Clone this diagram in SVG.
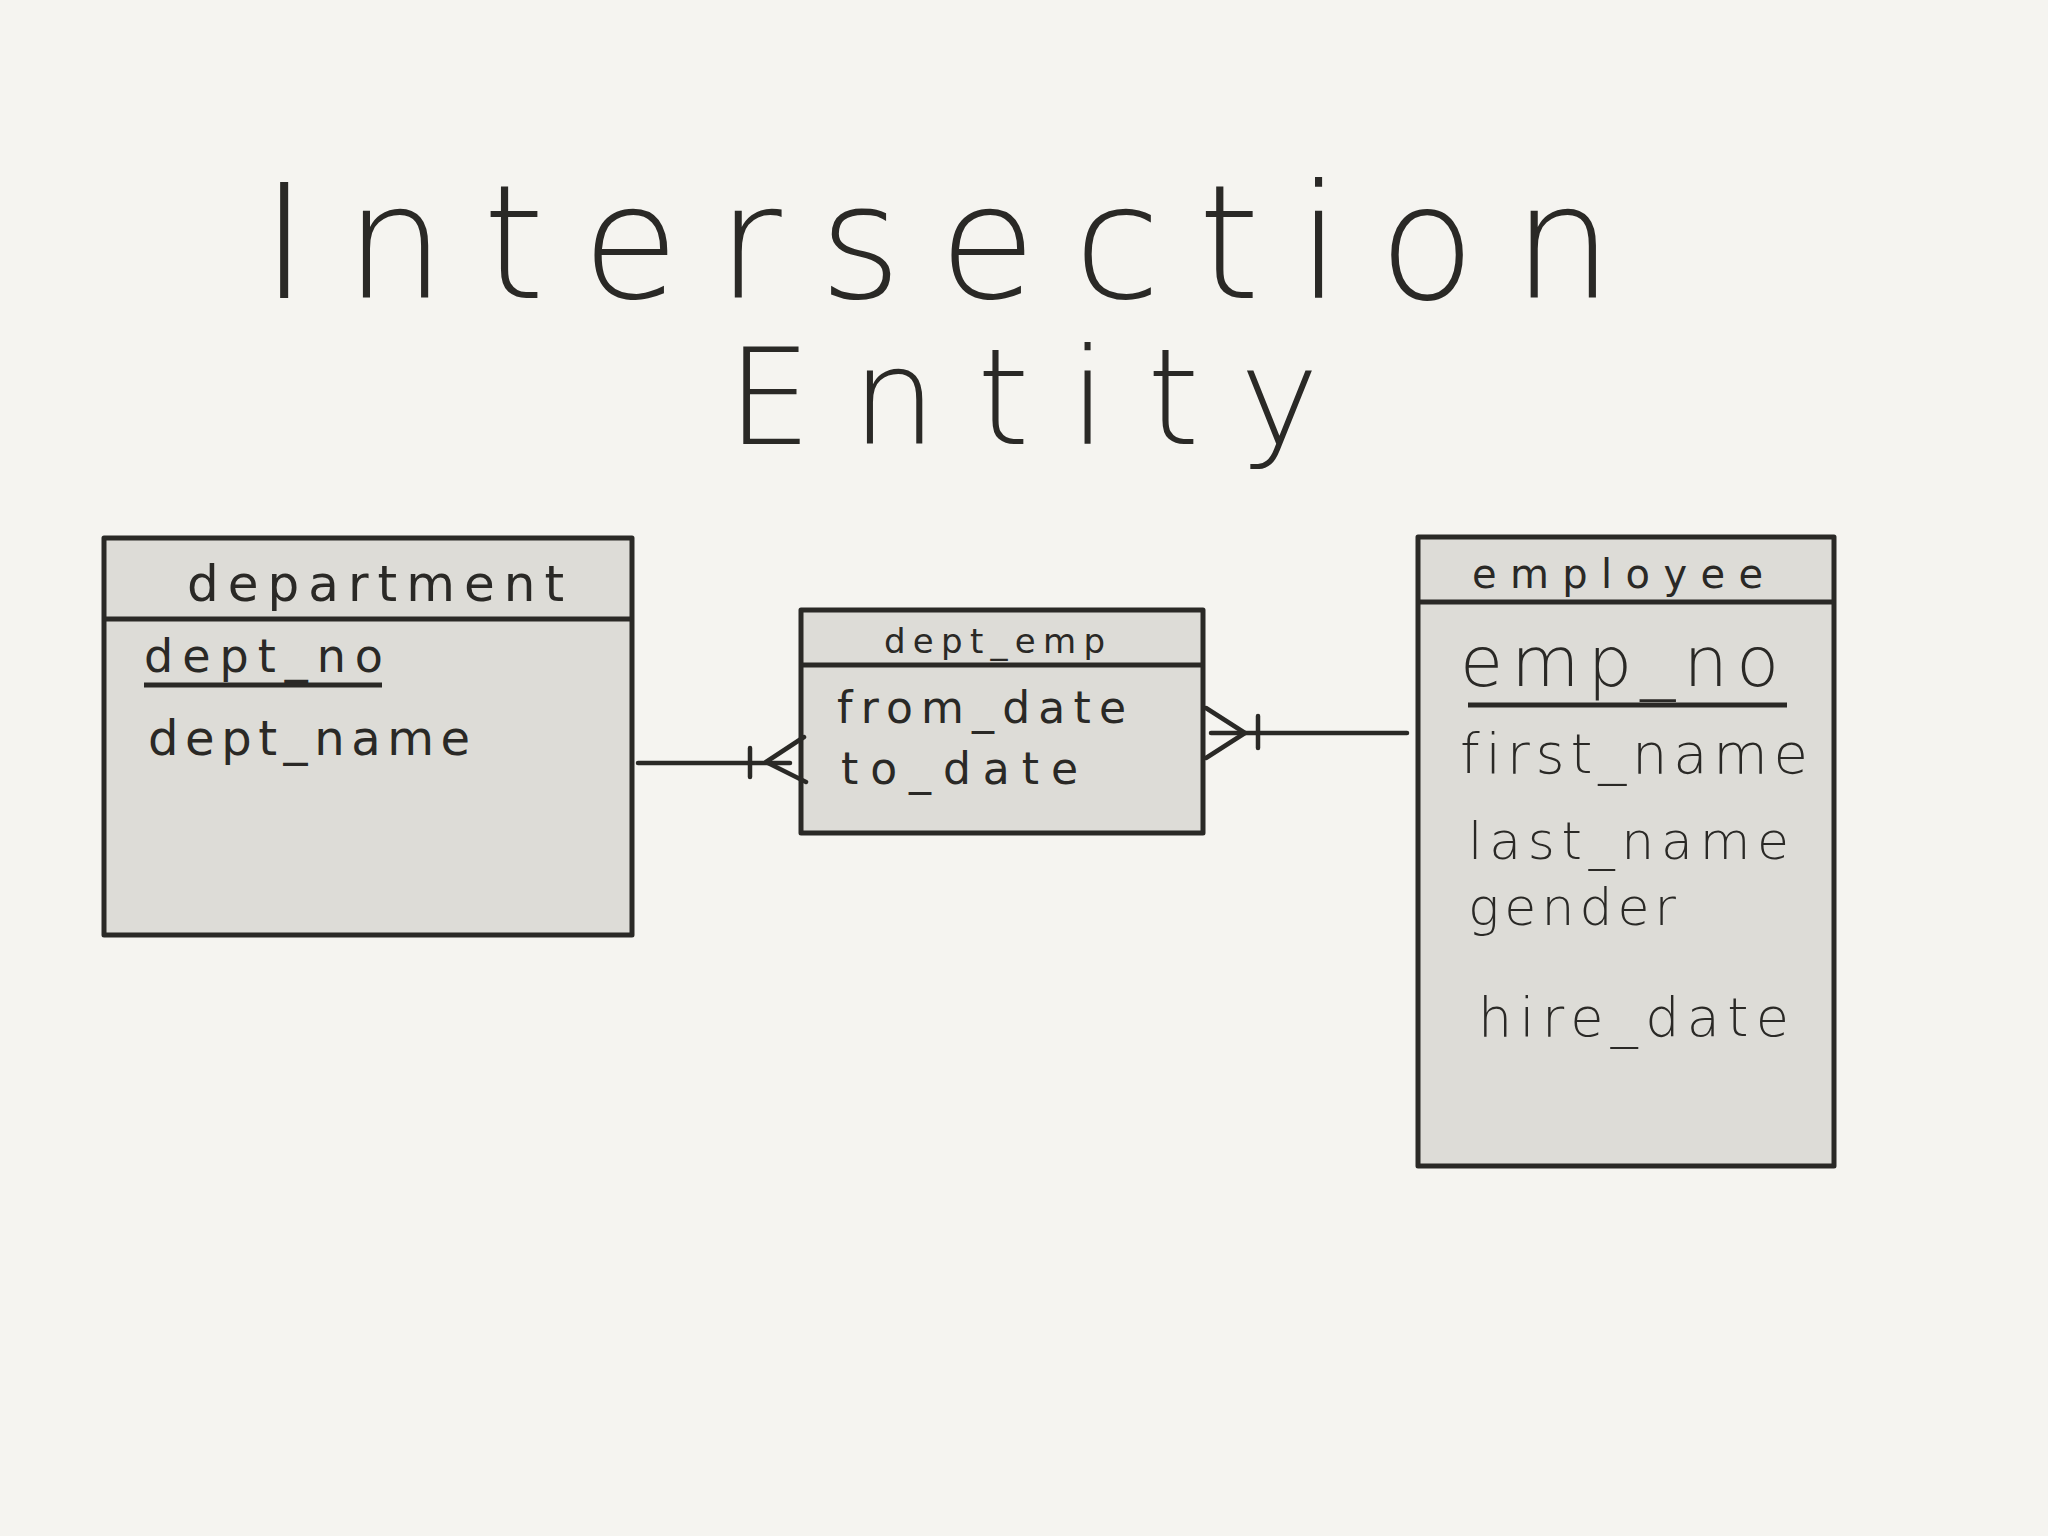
<svg xmlns="http://www.w3.org/2000/svg" width="2048" height="1536" viewBox="0 0 2048 1536">
<style>
.bg{fill:#f5f4f0}
.box{fill:#dddcd7;stroke:#2a2926;stroke-width:5;stroke-linejoin:round}
.div{stroke:#2a2926;stroke-width:5;fill:none}
text{font-variant-ligatures:none;font-feature-settings:"liga" 0}
.t{font-family:"DejaVu Sans","Liberation Sans",sans-serif;font-weight:200;fill:#2a2926}
.a{font-family:"DejaVu Sans","Liberation Sans",sans-serif;font-weight:normal;fill:#2a2926}
.con{stroke:#2a2926;stroke-width:4.5;fill:none;stroke-linecap:round;stroke-linejoin:round}
</style>
<rect class="bg" x="0" y="0" width="2048" height="1536"/>
<g id="title">
<text class="t" x="261" y="298" font-size="158" textLength="1352" lengthAdjust="spacing">Intersection</text>
<text class="t" x="727" y="444" font-size="134" textLength="592" lengthAdjust="spacing">Entity</text>
</g>
<g id="department">
<rect class="box" x="104" y="538" width="528" height="397"/>
<line class="div" x1="104" y1="619" x2="632" y2="619"/>
<text class="a" x="187" y="601" font-size="50" textLength="377" lengthAdjust="spacing">department</text>
<text class="a" x="144" y="672" font-size="46" textLength="239" lengthAdjust="spacing">dept_no</text>
<line class="div" x1="144" y1="685" x2="382" y2="685"/>
<text class="a" x="148" y="755" font-size="48" textLength="322" lengthAdjust="spacing">dept_name</text>
</g>
<g id="dept_emp">
<rect class="box" x="801" y="610" width="402" height="223"/>
<line class="div" x1="801" y1="665" x2="1203" y2="665"/>
<text class="a" x="884" y="653" font-size="34" textLength="221" lengthAdjust="spacing">dept_emp</text>
<text class="a" x="837" y="723" font-size="44" textLength="289" lengthAdjust="spacing">from_date</text>
<text class="a" x="841" y="784" font-size="44" textLength="237" lengthAdjust="spacing">to_date</text>
</g>
<g id="employee">
<rect class="box" x="1418" y="537" width="416" height="629"/>
<line class="div" x1="1418" y1="602" x2="1834" y2="602"/>
<text class="a" x="1472" y="588" font-size="40" textLength="291" lengthAdjust="spacing">employee</text>
<text class="t" x="1460" y="686" font-size="70" textLength="319" lengthAdjust="spacing">emp_no</text>
<line class="div" x1="1468" y1="705" x2="1787" y2="705"/>
<text class="t" x="1460" y="773" font-size="56" textLength="348" lengthAdjust="spacing">first_name</text>
<text class="t" x="1468" y="859" font-size="52" textLength="321" lengthAdjust="spacing">last_name</text>
<text class="t" x="1468" y="925" font-size="52" textLength="208" lengthAdjust="spacing">gender</text>
<text class="t" x="1478" y="1036" font-size="54" textLength="311" lengthAdjust="spacing">hire_date</text>
</g>
<g id="connectors">
<line class="con" x1="638" y1="763" x2="790" y2="763"/>
<line class="con" x1="750" y1="748" x2="750" y2="777"/>
<path class="con" d="M804 737 L766 762 L806 782"/>
<line class="con" x1="1211" y1="733" x2="1407" y2="733"/>
<line class="con" x1="1258" y1="716" x2="1258" y2="748"/>
<path class="con" d="M1206 708 L1245 733 L1206 758"/>
</g>
</svg>
